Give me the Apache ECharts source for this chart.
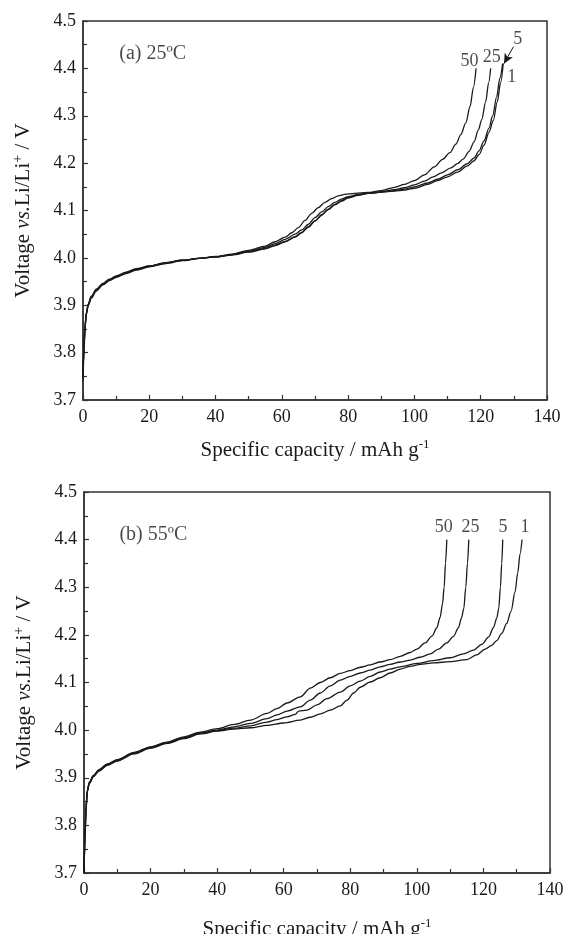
<!DOCTYPE html>
<html>
<head>
<meta charset="utf-8">
<script src="https://cdn.jsdelivr.net/npm/echarts@6/dist/echarts.min.js"></script>
<style>
  html, body { margin: 0; padding: 0; background: #fff; }
  #chart { width: 567px; height: 934px; }
</style>
</head>
<body>
<div id="chart"></div>
<script>
// (a) 25ºC — capacity (mAh/g), voltage (V)
const a25C_cycle1 = [[0,3.74],[0.3,3.8],[0.6,3.85],[1,3.88],[1.6,3.9],[2.5,3.915],[4,3.93],[6,3.943],[8,3.952],[10,3.959],[13,3.967],[16,3.974],[20,3.981],[25,3.988],[30,3.994],[35,3.999],[40,4.002],[45,4.007],[50,4.013],[55,4.02],[58,4.027],[61,4.035],[64,4.045],[66,4.054],[68,4.066],[70,4.078],[72,4.091],[74,4.103],[76,4.113],[78,4.121],[80,4.127],[83,4.133],[86,4.136],[90,4.139],[94,4.141],[97,4.143],[100,4.147],[104,4.155],[107,4.163],[110,4.171],[113,4.181],[116,4.194],[118,4.205],[119.5,4.218],[121,4.238],[122.5,4.265],[123.8,4.29],[125,4.33],[126,4.37],[126.8,4.41]];
const a25C_cycle5 = [[0,3.76],[0.3,3.81],[0.6,3.855],[1,3.882],[1.6,3.901],[2.5,3.917],[4,3.932],[6,3.944],[8,3.953],[10,3.96],[13,3.968],[16,3.975],[20,3.982],[25,3.989],[30,3.995],[35,3.999],[40,4.002],[45,4.006],[50,4.012],[55,4.019],[58,4.026],[61,4.034],[64,4.044],[66,4.053],[68,4.065],[70,4.078],[72,4.09],[74,4.102],[76,4.112],[78,4.12],[80,4.126],[83,4.132],[86,4.136],[90,4.139],[94,4.142],[97,4.145],[100,4.15],[104,4.158],[107,4.166],[110,4.175],[113,4.186],[116,4.199],[118,4.211],[119.5,4.226],[121,4.247],[122.5,4.274],[123.6,4.3],[124.8,4.34],[125.8,4.38],[126.6,4.41]];
const a25C_cycle25 = [[0,3.75],[0.3,3.81],[0.6,3.855],[1,3.883],[1.6,3.902],[2.5,3.918],[4,3.933],[6,3.945],[8,3.954],[10,3.961],[13,3.969],[16,3.976],[20,3.983],[25,3.99],[30,3.995],[35,3.999],[40,4.002],[45,4.007],[50,4.014],[55,4.022],[58,4.03],[61,4.039],[64,4.05],[66,4.059],[68,4.071],[70,4.085],[72,4.097],[74,4.108],[76,4.117],[78,4.124],[80,4.129],[83,4.134],[86,4.137],[90,4.14],[94,4.144],[97,4.148],[100,4.154],[103,4.162],[105.7,4.171],[108,4.179],[111,4.19],[113,4.199],[114.8,4.209],[116.5,4.225],[118,4.245],[119.3,4.27],[120.3,4.292],[121.5,4.33],[122.4,4.37],[123,4.4]];
const a25C_cycle50 = [[0,3.75],[0.3,3.81],[0.6,3.857],[1,3.885],[1.6,3.903],[2.5,3.919],[4,3.934],[6,3.946],[8,3.955],[10,3.962],[13,3.97],[16,3.977],[20,3.983],[25,3.99],[30,3.995],[35,3.999],[40,4.003],[45,4.008],[50,4.016],[55,4.025],[58,4.034],[61,4.044],[63,4.053],[65,4.064],[67,4.079],[69,4.094],[71,4.106],[73,4.117],[75,4.125],[77,4.131],[79,4.134],[82,4.136],[86,4.138],[90,4.142],[94,4.149],[97,4.155],[100,4.163],[103,4.175],[106,4.192],[108.5,4.208],[110.7,4.222],[112.5,4.24],[114,4.26],[115.5,4.285],[116.8,4.32],[117.8,4.36],[118.6,4.4]];

// (b) 55ºC
const b55C_cycle1 = [[0,3.7],[0.3,3.77],[0.6,3.83],[1,3.87],[1.6,3.888],[2.8,3.902],[4.5,3.914],[7,3.926],[10,3.935],[15,3.95],[20,3.962],[25,3.972],[30,3.982],[35,3.992],[40,3.998],[45,4.002],[50,4.005],[55,4.01],[60,4.015],[65,4.021],[68,4.027],[71,4.034],[74,4.042],[77,4.051],[79,4.063],[81,4.078],[83,4.09],[86,4.101],[89,4.11],[92,4.12],[95,4.128],[98,4.134],[101,4.138],[105,4.141],[110,4.144],[115,4.148],[118,4.158],[120.5,4.17],[122.5,4.178],[124,4.188],[125.5,4.203],[127,4.224],[128.3,4.25],[129.5,4.29],[130.3,4.33],[131,4.37],[131.6,4.4]];
const b55C_cycle5 = [[0,3.7],[0.3,3.775],[0.6,3.835],[1,3.872],[1.6,3.889],[2.8,3.903],[4.5,3.915],[7,3.927],[10,3.936],[15,3.951],[20,3.963],[25,3.973],[30,3.983],[35,3.993],[40,3.999],[45,4.004],[50,4.009],[55,4.017],[58,4.022],[61,4.028],[63.5,4.033],[64.5,4.04],[67,4.042],[70,4.053],[73,4.066],[77,4.08],[80,4.093],[83,4.103],[86,4.113],[89,4.122],[92,4.128],[95,4.133],[100,4.14],[105,4.146],[110,4.152],[114,4.16],[117,4.168],[119.5,4.18],[121.6,4.196],[123,4.215],[124,4.235],[124.6,4.255],[125.1,4.3],[125.5,4.35],[125.8,4.4]];
const b55C_cycle25 = [[0,3.7],[0.3,3.78],[0.6,3.84],[1,3.873],[1.6,3.89],[2.8,3.904],[4.5,3.916],[7,3.928],[10,3.937],[15,3.952],[20,3.964],[25,3.974],[30,3.984],[35,3.994],[40,4.0],[45,4.007],[50,4.014],[55,4.024],[58,4.032],[61,4.04],[65,4.049],[68,4.063],[71,4.078],[74,4.093],[77,4.105],[80,4.113],[83,4.12],[86,4.126],[89,4.133],[92,4.138],[95,4.143],[98,4.147],[101,4.153],[104,4.16],[106.5,4.17],[109,4.183],[111,4.197],[112.5,4.215],[113.4,4.235],[114.1,4.255],[114.7,4.3],[115.2,4.35],[115.6,4.4]];
const b55C_cycle50 = [[0,3.7],[0.3,3.78],[0.6,3.84],[1,3.874],[1.6,3.891],[2.8,3.905],[4.5,3.917],[7,3.929],[10,3.938],[15,3.953],[20,3.965],[25,3.975],[30,3.986],[35,3.996],[40,4.003],[45,4.012],[50,4.021],[55,4.035],[58,4.045],[61,4.057],[65,4.07],[68,4.088],[71,4.1],[74,4.11],[77,4.119],[80,4.125],[83,4.132],[86,4.137],[89,4.143],[92,4.148],[95,4.155],[98,4.163],[100,4.17],[102.5,4.183],[104.6,4.198],[106,4.215],[107,4.237],[107.7,4.265],[108.2,4.3],[108.6,4.35],[109,4.4]];

// cycle-number labels [text, capacity, voltage]
const labelsA = [['50',116.6,4.414],['25',123.3,4.424],['5',131.2,4.461],['1',129.4,4.381]];
const labelsB = [['50',108.1,4.427],['25',116.1,4.427],['5',125.9,4.427],['1',132.5,4.427]];
const arrowA = [[129.9,4.446],[127,4.41]];
const titleA = ['(a) 25ºC',10.8,4.431];
const titleB = ['(b) 55ºC',10.5,4.411];

const xTicks = { min: 0, max: 140, interval: 20 };
const yTicks = { min: 3.7, max: 4.5, interval: 0.1 };

const font = 'Liberation Serif';
const ink = '#1a1a1a';

function xAxisFor(gridIndex, gap) {
  return {
    gridIndex: gridIndex,
    type: 'value',
    min: xTicks.min, max: xTicks.max, interval: xTicks.interval,
    name: '{n|Specific capacity / mAh g}{s|-1}',
    nameLocation: 'middle',
    nameGap: gap,
    nameTextStyle: {
      rich: {
        n: { fontFamily: font, fontSize: 21, color: ink, lineHeight: 24 },
        s: { fontFamily: font, fontSize: 13, color: ink, verticalAlign: 'top', lineHeight: 24 }
      }
    },
    axisLine: { lineStyle: { color: '#333', width: 1.5 } },
    axisTick: { inside: true, length: 5, lineStyle: { color: '#333', width: 1.2 } },
    minorTick: { show: true, splitNumber: 2, length: 4, lineStyle: { color: '#333', width: 1.2 } },
    splitLine: { show: false },
    axisLabel: { fontFamily: font, fontSize: 18, color: ink, margin: 8 }
  };
}

function yAxisFor(gridIndex) {
  return {
    gridIndex: gridIndex,
    type: 'value',
    min: yTicks.min, max: yTicks.max, interval: yTicks.interval,
    name: '{n|Voltage }{i|vs.}{n|Li/Li}{s|+}{n| / V}',
    nameLocation: 'middle',
    nameRotate: 90,
    nameGap: 48,
    nameTextStyle: {
      rich: {
        n: { fontFamily: font, fontSize: 21, color: ink, lineHeight: 24 },
        i: { fontFamily: font, fontSize: 21, fontStyle: 'italic', color: ink, lineHeight: 24 },
        s: { fontFamily: font, fontSize: 14, color: ink, verticalAlign: 'top', lineHeight: 24 }
      }
    },
    axisLine: { lineStyle: { color: '#333', width: 1.5 } },
    axisTick: { inside: true, length: 5, lineStyle: { color: '#333', width: 1.2 } },
    minorTick: { show: true, splitNumber: 2, length: 4, lineStyle: { color: '#333', width: 1.2 } },
    splitLine: { show: false },
    axisLabel: {
      fontFamily: font, fontSize: 18, color: ink, margin: 7,
      formatter: v => v.toFixed(1)
    }
  };
}

function curve(data, idx) {
  return {
    type: 'line',
    xAxisIndex: idx, yAxisIndex: idx,
    data: data,
    showSymbol: false,
    smooth: 0.3,
    smoothMonotone: 'x',
    lineStyle: { color: ink, width: 1.3 },
    silent: true,
    z: 3
  };
}

function textSeries(items, idx, align, size) {
  return {
    type: 'scatter',
    xAxisIndex: idx, yAxisIndex: idx,
    symbolSize: 1,
    itemStyle: { color: 'rgba(0,0,0,0)' },
    silent: true,
    data: items.map(d => ({ value: [d[1], d[2]], name: d[0] })),
    label: {
      show: true,
      position: align === 'left' ? 'right' : 'inside',
      distance: 0,
      formatter: p => p.name,
      fontFamily: font, fontSize: size, color: ink
    }
  };
}

const chart = echarts.init(document.getElementById('chart'), null, { renderer: 'canvas' });

const arrowSeries = textSeries(labelsA, 0, 'center', 18);
arrowSeries.markLine = {
  silent: true,
  symbol: ['none', 'arrow'],
  symbolSize: [7, 10],
  label: { show: false },
  lineStyle: { color: ink, width: 1, type: 'solid' },
  data: [[{ coord: arrowA[0] }, { coord: arrowA[1] }]]
};

const option = {
  backgroundColor: '#fff',
  animation: false,
  grid: [
    { left: 83, top: 21, width: 464, height: 379, show: true, borderColor: '#333', borderWidth: 1.5, outerBoundsMode: 'none' },
    { left: 84, top: 492, width: 466, height: 381, show: true, borderColor: '#333', borderWidth: 1.5, outerBoundsMode: 'none' }
  ],
  xAxis: [xAxisFor(0, 38), xAxisFor(1, 44)],
  yAxis: [yAxisFor(0), yAxisFor(1)],
  series: [
    curve(a25C_cycle1, 0), curve(a25C_cycle5, 0), curve(a25C_cycle25, 0), curve(a25C_cycle50, 0),
    curve(b55C_cycle1, 1), curve(b55C_cycle5, 1), curve(b55C_cycle25, 1), curve(b55C_cycle50, 1),
    arrowSeries,
    textSeries(labelsB, 1, 'center', 18),
    textSeries([titleA], 0, 'left', 20),
    textSeries([titleB], 1, 'left', 20)
  ]
};

chart.setOption(option);
</script>
</body>
</html>
